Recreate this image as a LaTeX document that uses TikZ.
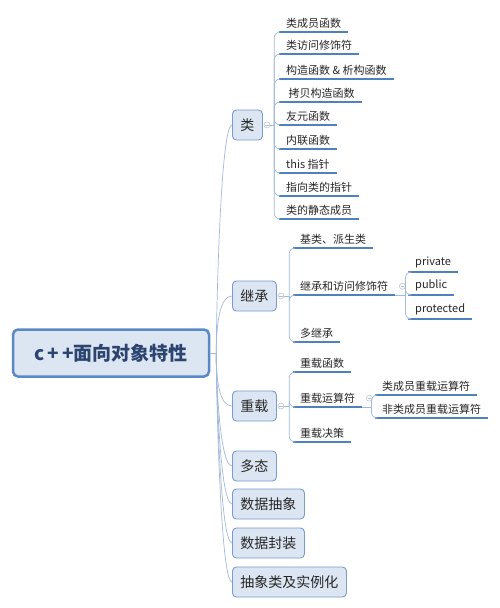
\documentclass[tikz,border=0pt]{standalone}
\usepackage{fontspec}
\setmainfont{Noto Sans CJK SC}
\usetikzlibrary{positioning}
\definecolor{boxfill}{HTML}{DCE6F2}
\definecolor{boxline}{HTML}{7A9BCB}
\definecolor{rootline}{HTML}{5A88C6}
\definecolor{roottext}{HTML}{2B4470}
\definecolor{ulcol}{HTML}{4F81BD}
\definecolor{linkcol}{HTML}{A3B9DB}
\definecolor{markcol}{HTML}{B4BCCB}
\tikzset{
  root/.style={draw=rootline, line width=2.5pt, fill=boxfill, rounded corners=5pt,
    minimum width=196pt, minimum height=47pt, text=roottext,
    font=\fontsize{19}{22}\selectfont\bfseries},
  topic/.style={draw=boxline, line width=0.9pt, fill=boxfill, rounded corners=4pt,
    anchor=west, minimum height=30pt, inner xsep=8pt, text=black!85,
    font=\fontsize{14}{16}\selectfont},
  leaf/.style={anchor=south west, inner xsep=7pt, inner ysep=3.5pt, text=black!85,
    font=\fontsize{11}{13}\selectfont},
  under/.style={draw=ulcol, line width=1.6pt},
  link/.style={draw=linkcol, line width=0.7pt},
  fork/.style={link, rounded corners=6pt},
  marker/.style={circle, draw=markcol, fill=white, line width=0.5pt, minimum size=6pt,
    inner sep=0pt, path picture={\draw[markcol, line width=0.5pt]
      ([xshift=-1.7pt]path picture bounding box.center) --
      ([xshift=1.7pt]path picture bounding box.center);}}
}
\begin{document}
\begin{tikzpicture}[x=1pt, y=-1pt]
\useasboundingbox (0,0) rectangle (500,608);

\node[root] (core) at (111,353) {c\,+\,+面向对象特性};
\coordinate (coreHub) at ([xshift=6pt]core.east);
\draw[link] (core.east) -- (coreHub);

\node[topic] (lei) at (232,125) {类};
\node[topic] (jicheng) at (232,296) {继承};
\node[topic] (chongzai) at (232,406) {重载};
\node[topic] (duotai) at (232,466) {多态};
\node[topic] (chouxiang) at (232,504) {数据抽象};
\node[topic] (fengzhuang) at (232,543) {数据封装};
\node[topic] (shili) at (232,582) {抽象类及实例化};

\foreach \t in {lei,jicheng} {
    \draw[link] (coreHub) .. controls +(0,-30) and +(-12,0) .. (\t.west);
}
\foreach \t in {chongzai,duotai,chouxiang,fengzhuang,shili} {
    \draw[link] (coreHub) .. controls +(0,30) and +(-12,0) .. (\t.west);
}

% 类
\node[marker] (leiHub) at ([xshift=4pt]lei.east) {};
\coordinate (leiSpine) at ([xshift=4pt]leiHub.east);
\draw[link] (leiHub.east) -- (leiSpine);
\foreach \txt/\yy [count=\i] in {类成员函数/32, 类访问修饰符/54, 构造函数 \& 析构函数/79,
    \ 拷贝构造函数/102, 友元函数/125, 内联函数/149, this 指针/173, 指向类的指针/196,
    类的静态成员/219} {
    \node[leaf] (lei\i) at (279,\yy) {\txt};
    \draw[under] (lei\i.south west) -- (lei\i.south east);
    \draw[fork] (leiSpine) |- (lei\i.south west);
}

% 继承
\node[marker] (jcHub) at ([xshift=4pt]jicheng.east) {};
\coordinate (jcSpine) at ([xshift=5pt]jcHub.east);
\draw[link] (jcHub.east) -- (jcSpine);
\foreach \txt/\yy [count=\i] in {基类、派生类/248, 继承和访问修饰符/295, 多继承/342} {
    \node[leaf] (jc\i) at (293,\yy) {\txt};
    \draw[under] (jc\i.south west) -- (jc\i.south east);
    \draw[fork] (jcSpine) |- (jc\i.south west);
}
\node[marker] (jc2Hub) at ([xshift=7pt]jc2.east) {};
\coordinate (jc2Spine) at ([xshift=10pt]jc2.south east);
\draw[link] (jc2.south east) -- (jc2Spine);
\foreach \txt/\yy [count=\i] in {private/272, public/295, protected/319} {
    \node[leaf] (fw\i) at (408,\yy) {\txt};
    \draw[under] (fw\i.south west) -- (fw\i.south east);
    \draw[fork] (jc2Spine) |- (fw\i.south west);
}

% 重载
\node[marker] (czHub) at ([xshift=4pt]chongzai.east) {};
\coordinate (czSpine) at ([xshift=5pt]czHub.east);
\draw[link] (czHub.east) -- (czSpine);
\foreach \txt/\yy [count=\i] in {重载函数/372, 重载运算符/407, 重载决策/442} {
    \node[leaf] (cz\i) at (293,\yy) {\txt};
    \draw[under] (cz\i.south west) -- (cz\i.south east);
    \draw[fork] (czSpine) |- (cz\i.south west);
}
\node[marker] (cz2Hub) at ([xshift=7pt]cz2.east) {};
\coordinate (cz2Spine) at ([xshift=9pt]cz2.south east);
\draw[link] (cz2.south east) -- (cz2Spine);
\foreach \txt/\yy [count=\i] in {类成员重载运算符/395, 非类成员重载运算符/418} {
    \node[leaf] (ys\i) at (375,\yy) {\txt};
    \draw[under] (ys\i.south west) -- (ys\i.south east);
    \draw[fork] (cz2Spine) |- (ys\i.south west);
}
\end{tikzpicture}
\end{document}
